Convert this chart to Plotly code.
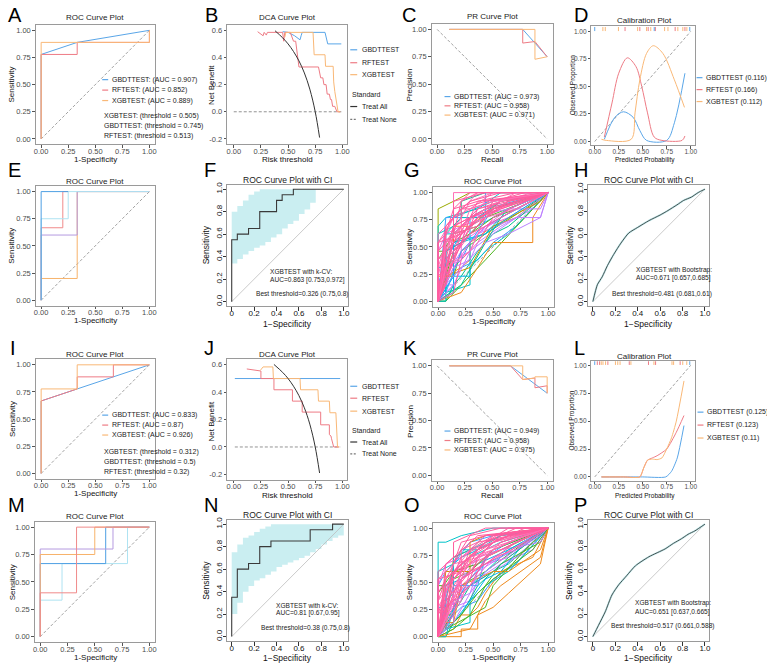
import plotly.graph_objects as go

W, H = 767, 664
FONT = "Liberation Sans, Arial, sans-serif"
C_GBDT, C_RF, C_XGB = "#5AA6E8", "#EE7B85", "#F9B877"
BORDER = "#9a9a9a"
DIAG = "#8a8a8a"

# ---------------- DATA ----------------
roc_ticks = [0, 0.25, 0.5, 0.75, 1]
roc_labels = ["0.00", "0.25", "0.50", "0.75", "1.00"]
base_ticks = [0, 0.2, 0.4, 0.6, 0.8, 1.0]
base_xlabels = ["0", "0.2", "0.4", "0.6", "0.8", "1.0"]
base_ylabels = ["0.0", "0.2", "0.4", "0.6", "0.8", "1.0"]
dca_yticks = [-0.2, 0, 0.2, 0.4, 0.6]
dca_ylabels = ["-0.2", "0.0", "0.2", "0.4", "0.6"]
models = ["GBDTTEST", "RFTEST", "XGBTEST"]

# A
A_gbdt_x = [0, 0, 0.333, 1]; A_gbdt_y = [0, 0.778, 0.889, 1]
A_rf_x = [0, 0, 0.333, 0.333, 1, 1]; A_rf_y = [0, 0.778, 0.778, 0.889, 0.889, 1]
A_xgb_x = [0, 0, 1, 1]; A_xgb_y = [0, 0.889, 0.889, 1]
A_auc = ["0.907", "0.852", "0.889"]
A_thr = ["XGBTEST: (threshold = 0.505)", "GBDTTEST: (threshold = 0.745)", "RFTEST: (threshold = 0.513)"]

# B
B_gbdt_x = [0.45, 0.50, 0.56, 0.61, 0.62, 0.63, 0.84, 0.865, 0.99]
B_gbdt_y = [0.59, 0.585, 0.56, 0.53, 0.56, 0.585, 0.585, 0.5, 0.5]
B_rf_x = [0.22, 0.27, 0.28, 0.30, 0.31, 0.45, 0.46, 0.47, 0.52, 0.55, 0.57, 0.58, 0.60, 0.78, 0.80, 0.82, 0.83, 0.85, 0.86, 0.88, 0.89, 0.90, 0.91, 0.93, 0.95, 0.98]
B_rf_y = [0.59, 0.56, 0.585, 0.565, 0.585, 0.585, 0.52, 0.585, 0.585, 0.52, 0.52, 0.45, 0.33, 0.33, 0.25, 0.25, 0.2, 0.2, 0.13, 0.13, 0.09, 0.09, 0.04, 0.04, 0.0, 0.0]
B_xgb_x = [0.47, 0.48, 0.73, 0.74, 0.84, 0.845, 0.915, 0.92, 0.93, 0.95, 0.96, 0.98]
B_xgb_y = [0.55, 0.585, 0.585, 0.42, 0.42, 0.335, 0.335, 0.22, 0.15, 0.05, 0.0, 0.0]
B_all_x = [0.38, 0.45, 0.5, 0.55, 0.6, 0.65, 0.7, 0.75, 0.79]
B_all_y = [0.597, 0.545, 0.5, 0.444, 0.375, 0.286, 0.167, 0.0, -0.19]
B_none_x = [0.0, 0.99]; B_none_y = [0, 0]

# C
C_gbdt_x = [0.111, 0.778, 1.0]; C_gbdt_y = [1, 1, 0.75]
C_rf_x = [0.111, 0.778, 0.778, 0.889, 1.0]; C_rf_y = [1, 1, 0.875, 0.889, 0.75]
C_xgb_x = [0.111, 0.889, 0.889, 1.0]; C_xgb_y = [1, 1, 0.727, 0.75]
C_auc = ["0.973", "0.958", "0.971"]

# D
D_gbdt_x = [0.10, 0.21, 0.30, 0.40, 0.47, 0.54, 0.75, 0.83, 0.94]
D_gbdt_y = [0.02, 0.22, 0.27, 0.22, 0.10, 0.01, 0.01, 0.17, 0.62]
D_rf_x = [0.10, 0.18, 0.25, 0.34, 0.43, 0.49, 0.55, 0.62, 0.70, 0.91, 0.94]
D_rf_y = [0.04, 0.35, 0.62, 0.76, 0.68, 0.50, 0.26, 0.04, 0.01, 0.01, 0.05]
D_xgb_x = [0.07, 0.12, 0.38, 0.42, 0.47, 0.54, 0.61, 0.71, 0.83, 0.935]
D_xgb_y = [0.02, 0.01, 0.02, 0.26, 0.56, 0.80, 0.87, 0.80, 0.56, 0.31]
D_rug_gbdt = [0.0, 0.62, 0.99]
D_rug_rf = [0.316, 0.47, 0.557, 0.632, 0.838, 0.94]
D_rug_xgb = [0.085, 0.11, 0.247, 0.447, 0.54, 0.584, 0.728, 0.763, 0.866, 0.918, 0.96]
D_brier = ["0.116", "0.166", "0.112"]

# E (five folds)
E_curves_x = [[0, 0, 0.333, 0.333, 1], [0, 0, 0.333, 0.333, 1], [0, 0, 0.2, 0.2, 0.25], [0, 0, 0.25, 0.25, 1], [0, 0, 0.25]]
E_curves_y = [[0, 0.2, 0.2, 1, 1], [0, 0.6, 0.6, 1, 1], [0, 0.667, 0.667, 1, 1], [0, 0.75, 0.75, 1, 1], [0, 1, 1]]
E_colors = ["#F7B36B", "#B59AE0", "#F08A8A", "#AEE3F2", "#4E9FE3"]

# F
F_x = [0, 0, 0.05, 0.05, 0.15, 0.15, 0.25, 0.25, 0.4, 0.4, 0.45, 0.45, 0.55, 0.55, 1]
F_y = [0, 0.55, 0.55, 0.6, 0.6, 0.65, 0.65, 0.8, 0.8, 0.9, 0.9, 0.95, 0.95, 1.0, 1.0]
F_ci_x = [0, 0.05, 0.1, 0.15, 0.2, 0.25, 0.3, 0.35, 0.4, 0.45, 0.5, 0.55, 0.6, 0.65, 0.7, 0.75]
F_ci_lo = [0.34, 0.38, 0.42, 0.45, 0.48, 0.5, 0.53, 0.57, 0.6, 0.65, 0.69, 0.72, 0.78, 0.82, 0.88, 0.96]
F_ci_hi = [0.8, 0.85, 0.9, 0.95, 0.98, 1.0, 1.0, 1.0, 1.0, 1.0, 1.0, 1.0, 1.0, 1.0, 1.0, 1.0]
F_text = ["XGBTEST with k-CV:", "AUC=0.863 [0.753,0.972]", "Best threshold=0.326 (0.75,0.8)"]

# G (resampled ROC curves, flattened x,y pairs) - lower / early curves
G_low = [
    [0,0, 0.07,0.08, 0.07,0.31, 0.14,0.38, 0.14,0.62, 0.29,0.77, 0.57,0.92, 1,1],
    [0,0, 0,0.08, 0.07,0.15, 0.14,0.31, 0.21,0.38, 0.29,0.54, 0.43,0.69, 0.71,0.85, 1,1],
    [0,0, 0.07,0.15, 0.07,0.23, 0.14,0.23, 0.21,0.46, 0.43,0.62, 0.79,0.85, 1,1],
    [0,0, 0.14,0.15, 0.14,0.31, 0.29,0.38, 0.36,0.54, 0.57,0.69, 0.86,0.85, 1,1],
    [0,0, 0,0.31, 0.07,0.31, 0.07,0.46, 0.21,0.54, 0.36,0.69, 0.64,0.85, 1,1],
    [0,0, 0.07,0.23, 0.21,0.31, 0.29,0.38, 0.29,0.54, 0.5,0.69, 0.71,0.77, 1,1],
    [0,0, 0.07,0, 0.14,0.15, 0.21,0.23, 0.36,0.46, 0.5,0.62, 0.64,0.69, 1,1],
    [0,0, 0,0.15, 0.14,0.15, 0.14,0.38, 0.29,0.46, 0.5,0.62, 0.71,0.77, 1,1],
    [0,0, 0.07,0.31, 0.21,0.38, 0.21,0.54, 0.43,0.69, 0.64,0.77, 1,1],
    [0,0, 0.14,0.23, 0.21,0.31, 0.36,0.38, 0.5,0.54, 0.71,0.69, 1,1],
    [0,0, 0.07,0.08, 0.29,0.15, 0.29,0.31, 0.43,0.46, 0.64,0.62, 1,1],
    [0,0, 0,0.46, 0.07,0.46, 0.14,0.54, 0.29,0.62, 0.43,0.77, 1,1],
]
G_low_colors = ["cyan", "blue", "green", "purple", "teal", "orange", "green2", "violet", "magenta", "blue", "cyan", "green"]
G_curves = [
    [0,0, 0.07,0, 0.43,0.38, 0.79,0.77, 1,1],
    [0,0, 0.21,0.08, 0.36,0.31, 0.5,0.54, 0.86,0.54, 0.86,0.77, 1,1],
    [0,0, 0,0.85, 0.14,0.92, 0.29,1, 1,1],
    [0,0, 0.07,0.23, 0.21,0.46, 0.36,0.62, 0.71,0.77, 0.93,0.77, 1,1],
    [0,0, 0.14,0.23, 0.29,0.23, 0.29,0.77, 0.43,0.85, 1,1],
    [0,0, 0.07,0.08, 0.07,0.62, 0.14,0.62, 0.14,0.77, 0.5,0.92, 1,1],
    [0,0, 0,0.15, 0.07,0.38, 0.21,0.62, 0.5,0.85, 0.71,0.92, 1,1],
    [0,0, 0.07,0.62, 0.21,0.77, 0.21,0.92, 0.43,1, 1,1],
    [0,0, 0.07,0.23, 0.29,0.31, 0.5,0.69, 0.93,0.92, 1,1],
    [0,0, 0,0.69, 0.07,0.77, 0.36,0.85, 0.57,1, 1,1],
    [0,0, 0.14,0.46, 0.29,0.62, 0.5,0.77, 0.71,0.85, 1,1],
    [0,0, 0.07,0.77, 0.43,0.77, 0.43,1, 1,1],
    [0,0, 0.07,0.38, 0.21,0.54, 0.29,0.77, 0.64,0.85, 0.93,0.85, 1,1],
    [0,0, 0.07,0, 0.07,0.46, 0.21,0.54, 0.43,0.62, 0.64,0.85, 1,1],
    [0,0, 0.21,0.15, 0.43,0.54, 0.57,0.77, 1,1],
    [0,0, 0,0.23, 0.14,0.23, 0.14,0.69, 0.29,0.69, 0.57,0.92, 1,1],
    [0,0, 0.14,0.08, 0.14,0.54, 0.43,0.62, 0.64,0.77, 1,1],
    [0,0, 0.07,0.15, 0.21,0.31, 0.43,0.54, 0.64,0.62, 0.93,0.77, 1,1],
    [0,0, 0.07,0.08, 0.21,0.46, 0.29,0.54, 0.5,0.85, 1,1],
    [0,0, 0,0.62, 0.14,0.69, 0.21,0.77, 0.36,0.77, 0.57,0.92, 1,1],
    [0,0, 0,0.38, 0.14,0.62, 0.36,0.69, 0.5,0.85, 1,1],
    [0,0, 0.14,0.15, 0.29,0.46, 0.36,0.62, 0.57,0.77, 0.86,0.92, 1,1],
    [0,0, 0.14,0.31, 0.29,0.54, 0.43,0.69, 0.64,0.85, 1,1],
    [0,0, 0,0.46, 0.07,0.62, 0.21,0.69, 0.43,0.92, 1,1],
    [0,0, 0,0.38, 0.07,0.46, 0.14,0.69, 0.29,0.77, 0.43,0.85, 0.71,0.92, 1,1],
    [0,0, 0.07,0.31, 0.14,0.54, 0.21,0.69, 0.36,0.85, 0.57,0.92, 1,1],
    [0,0, 0,0.23, 0.07,0.54, 0.21,0.77, 0.29,0.92, 0.5,1, 1,1],
    [0,0, 0.07,0.15, 0.14,0.46, 0.29,0.62, 0.43,0.77, 0.64,0.92, 1,1],
    [0,0, 0,0.46, 0.14,0.62, 0.14,0.85, 0.36,0.92, 0.71,1, 1,1],
    [0,0, 0.07,0.62, 0.14,0.77, 0.29,0.85, 0.5,1, 1,1],
    [0,0, 0,0.31, 0.14,0.46, 0.21,0.62, 0.29,0.69, 0.57,0.85, 1,1],
    [0,0, 0.07,0.46, 0.07,0.69, 0.21,0.85, 0.43,0.92, 1,1],
    [0,0, 0.14,0.08, 0.21,0.38, 0.36,0.54, 0.5,0.77, 0.79,0.92, 1,1],
    [0,0, 0,0.54, 0.14,0.77, 0.14,1, 1,1],
    [0,0, 0,0.15, 0.07,0.31, 0.21,0.54, 0.36,0.77, 0.57,0.85, 1,1],
    [0,0, 0.07,0.54, 0.14,0.62, 0.36,0.69, 0.5,0.92, 1,1],
    [0,0, 0,0.62, 0.07,0.69, 0.29,0.92, 0.36,1, 1,1],
    [0,0, 0.07,0.38, 0.14,0.69, 0.43,0.85, 0.57,0.92, 1,1],
    [0,0, 0,0.08, 0.14,0.38, 0.29,0.69, 0.36,0.77, 0.71,0.92, 1,1],
    [0,0, 0.07,0.69, 0.21,0.85, 0.29,0.85, 0.5,0.92, 0.79,1, 1,1],
    [0,0, 0,0.38, 0.21,0.69, 0.43,0.77, 0.57,0.92, 0.86,1, 1,1],
    [0,0, 0.14,0.62, 0.21,0.92, 0.36,1, 1,1],
    [0,0, 0,0.54, 0.07,0.62, 0.14,0.85, 0.29,1, 1,1],
    [0,0, 0.07,0.46, 0.14,0.54, 0.29,0.77, 0.5,0.85, 1,1],
    [0,0, 0,0.31, 0.07,0.54, 0.21,0.69, 0.43,0.85, 0.71,1, 1,1],
    [0,0, 0.14,0.54, 0.29,0.69, 0.36,0.85, 0.64,0.92, 1,1],
    [0,0, 0.07,0.23, 0.14,0.62, 0.29,0.77, 0.36,0.92, 1,1],
    [0,0, 0.14,0.38, 0.21,0.62, 0.36,0.77, 0.64,0.92, 1,1],
    [0,0, 0.07,0.54, 0.21,0.62, 0.29,0.85, 0.5,0.92, 1,1],
    [0,0, 0,0.23, 0.07,0.31, 0.29,0.62, 0.43,0.69, 0.71,0.85, 1,1],
    [0,0, 0.07,0.69, 0.14,0.77, 0.14,0.92, 0.43,1, 1,1],
    [0,0, 0.21,0.54, 0.29,0.77, 0.5,0.85, 0.79,0.92, 1,1],
    [0,0, 0.07,0.31, 0.29,0.46, 0.43,0.77, 0.71,0.85, 1,1],
    [0,0, 0,0.54, 0.21,0.62, 0.21,0.85, 0.29,0.92, 0.57,1, 1,1],
]
G_colors = ["green", "orange", "olive", "purple", "teal", "cyan", "blue", "green2", "gold", "cyan",
            "green", "blue", "purple", "cyan", "green2", "orange", "teal", "violet", "blue", "cyan",
            "green", "purple", "magenta", "magenta",
            "pink", "pink", "rose", "pink", "pink", "rose", "pink", "pink", "pink", "rose",
            "pink", "pink", "rose", "pink", "pink", "pink", "rose", "pink", "pink", "pink",
            "rose", "pink", "pink", "pink", "rose", "pink", "pink", "pink", "rose", "pink"]

# H
H_x = [0, 0.04, 0.083, 0.13, 0.186, 0.25, 0.32, 0.4, 0.5, 0.6, 0.67, 0.75, 0.81, 0.88, 0.94, 1.0]
H_y = [0, 0.15, 0.22, 0.32, 0.42, 0.52, 0.61, 0.66, 0.72, 0.77, 0.81, 0.86, 0.9, 0.93, 0.97, 1.0]
H_text = ["XGBTEST with Bootstrap:", "AUC=0.671 [0.657,0.685]", "Best threshold=0.481 (0.681,0.61)"]

# I
I_gbdt_x = [0, 0, 0.333, 1]; I_gbdt_y = [0, 0.667, 0.778, 1]
I_rf_x = [0, 0, 0.333, 0.333, 0.667, 0.667, 1]; I_rf_y = [0, 0.667, 0.778, 0.889, 0.889, 1, 1]
I_xgb_x = [0, 0, 0.333, 0.333, 1]; I_xgb_y = [0, 0.778, 0.778, 1, 1]
I_auc = ["0.833", "0.87", "0.926"]
I_thr = ["XGBTEST: (threshold = 0.312)", "GBDTTEST: (threshold = 0.5)", "RFTEST: (threshold = 0.32)"]

# J
J_gbdt_x = [0.01, 0.98]; J_gbdt_y = [0.5, 0.5]
J_rf_x = [0.12, 0.25, 0.25, 0.37, 0.37, 0.54, 0.54, 0.63, 0.63, 0.80, 0.80, 0.88, 0.88, 0.895, 0.90, 0.92, 0.97]
J_rf_y = [0.57, 0.555, 0.5, 0.5, 0.418, 0.418, 0.335, 0.335, 0.255, 0.255, 0.162, 0.162, 0.09, 0.08, 0.06, 0.0, 0.0]
J_xgb_x = [0.245, 0.27, 0.36, 0.365, 0.61, 0.615, 0.775, 0.78, 0.88, 0.885, 0.94, 0.955, 0.97]
J_xgb_y = [0.56, 0.585, 0.585, 0.5, 0.5, 0.418, 0.418, 0.335, 0.335, 0.25, 0.25, 0.0, 0.0]
J_all_x = [0.37, 0.45, 0.5, 0.55, 0.6, 0.65, 0.7, 0.75, 0.79]
J_all_y = [0.603, 0.545, 0.5, 0.444, 0.375, 0.286, 0.167, 0.0, -0.19]
J_none_x = [0.01, 0.98]; J_none_y = [0, 0]

# K
K_gbdt_x = [0.111, 0.667, 1.0]; K_gbdt_y = [1, 1, 0.75]
K_rf_x = [0.111, 0.667, 0.778, 0.889, 0.889, 1.0, 1.0]; K_rf_y = [1, 1, 0.875, 0.889, 0.8, 0.818, 0.75]
K_xgb_x = [0.111, 0.778, 0.778, 0.889, 0.889, 1.0, 1.0]; K_xgb_y = [1, 1, 0.875, 0.889, 0.9, 0.9, 0.75]
K_auc = ["0.949", "0.958", "0.975"]

# L
L_gbdt_x = [0.07, 0.3, 0.5, 0.74, 0.8, 0.86, 0.93]; L_gbdt_y = [0, 0, 0, 0, 0.05, 0.17, 0.46]
L_rf_x = [0.07, 0.3, 0.47, 0.51, 0.55, 0.6, 0.65, 0.75, 0.85, 0.93]
L_rf_y = [0, 0, 0, 0.08, 0.15, 0.17, 0.19, 0.25, 0.4, 0.55]
L_xgb_x = [0.07, 0.3, 0.47, 0.51, 0.55, 0.6, 0.65, 0.7, 0.75, 0.8, 0.85, 0.93]
L_xgb_y = [0, 0, 0, 0.08, 0.15, 0.16, 0.155, 0.17, 0.25, 0.35, 0.5, 0.86]
L_rug_gbdt = [0.0, 0.99]
L_rug_rf = [0.027, 0.051, 0.137, 0.36, 0.56, 0.634, 0.89]
L_rug_xgb = [0.068, 0.086, 0.113, 0.216, 0.24, 0.264, 0.377, 0.617, 0.805, 0.822, 0.917, 0.959]
L_brier = ["0.125", "0.123", "0.11"]

# M
M_curves_x = [[0, 0, 0.2, 0.2, 0.8, 0.8, 1], [0, 0, 0.6, 0.6, 1], [0, 0, 0.667, 0.667, 1], [0, 0, 0.5, 0.5, 1], [0, 0, 0.333, 0.333, 1]]
M_curves_y = [[0, 0.333, 0.333, 0.667, 0.667, 1, 1], [0, 0.667, 0.667, 1, 1], [0, 0.8, 0.8, 1, 1], [0, 0.75, 0.75, 1, 1], [0, 0.4, 0.4, 1, 1]]
M_colors = ["#AEE3F2", "#4E9FE3", "#B59AE0", "#F7B36B", "#F08A8A"]

# N
N_x = [0, 0, 0.05, 0.05, 0.15, 0.15, 0.25, 0.25, 0.35, 0.35, 0.7, 0.7, 0.9, 0.9, 1.0]
N_y = [0, 0.35, 0.35, 0.6, 0.6, 0.65, 0.65, 0.8, 0.8, 0.85, 0.85, 0.95, 0.95, 1.0, 1.0]
N_ci_x = [0, 0.05, 0.1, 0.15, 0.2, 0.25, 0.3, 0.35, 0.4, 0.45, 0.5, 0.55, 0.6, 0.65, 0.7, 0.75, 0.8, 0.85, 0.9, 0.95, 1.0]
N_ci_lo = [0.2, 0.3, 0.4, 0.45, 0.5, 0.52, 0.55, 0.58, 0.62, 0.64, 0.66, 0.68, 0.7, 0.72, 0.75, 0.78, 0.82, 0.85, 0.88, 0.9, 0.95]
N_ci_hi = [0.75, 0.82, 0.88, 0.9, 0.93, 0.96, 0.98, 1.0, 1.0, 1.0, 1.0, 1.0, 1.0, 1.0, 1.0, 1.0, 1.0, 1.0, 1.0, 1.0, 1.0]
N_text = ["XGBTEST with k-CV:", "AUC=0.81 [0.67,0.95]", "Best threshold=0.38 (0.75,0.8)"]

# O
O_low = [
    [0,0, 0.07,0.07, 0.07,0.33, 0.14,0.4, 0.14,0.6, 0.29,0.73, 0.57,0.87, 1,1],
    [0,0, 0,0.07, 0.07,0.13, 0.14,0.27, 0.21,0.4, 0.29,0.53, 0.43,0.67, 0.71,0.8, 1,1],
    [0,0, 0.07,0.13, 0.07,0.2, 0.14,0.2, 0.21,0.47, 0.43,0.6, 0.79,0.87, 1,1],
    [0,0, 0.14,0.13, 0.14,0.27, 0.29,0.33, 0.36,0.53, 0.57,0.67, 0.86,0.8, 1,1],
    [0,0, 0,0.27, 0.07,0.27, 0.07,0.47, 0.21,0.53, 0.36,0.67, 0.64,0.8, 1,1],
    [0,0, 0.14,0.07, 0.21,0.2, 0.29,0.2, 0.36,0.27, 0.43,0.4, 0.57,0.6, 0.86,0.73, 1,1],
    [0,0, 0.07,0, 0.14,0.13, 0.21,0.2, 0.36,0.47, 0.5,0.6, 0.64,0.67, 1,1],
    [0,0, 0,0.13, 0.14,0.13, 0.14,0.4, 0.29,0.47, 0.5,0.6, 0.71,0.73, 1,1],
    [0,0, 0.07,0.27, 0.21,0.33, 0.21,0.53, 0.43,0.67, 0.64,0.73, 1,1],
    [0,0, 0.14,0.2, 0.21,0.27, 0.36,0.33, 0.5,0.53, 0.71,0.67, 1,1],
    [0,0, 0.07,0.07, 0.29,0.13, 0.29,0.33, 0.43,0.47, 0.64,0.6, 1,1],
    [0,0, 0,0.47, 0.07,0.47, 0.14,0.53, 0.29,0.6, 0.43,0.73, 1,1],
]
O_low_colors = ["cyan", "blue", "green", "purple", "teal", "orange", "green2", "violet", "magenta", "blue", "cyan", "green"]
O_curves = [
    [0,0, 0,0.87, 0.07,0.87, 0.21,0.93, 0.5,1, 1,1],
    [0,0, 0.14,0.07, 0.29,0.2, 0.43,0.47, 0.57,0.67, 0.93,0.87, 1,1],
    [0,0, 0.21,0, 0.21,0.07, 0.36,0.07, 0.36,0.2, 0.5,0.27, 0.64,0.4, 0.93,0.67, 1,1],
    [0,0, 0.07,0.07, 0.14,0.73, 0.29,0.8, 0.43,0.93, 1,1],
    [0,0, 0.14,0.13, 0.29,0.33, 0.43,0.53, 0.57,0.6, 0.79,0.87, 1,1],
    [0,0, 0.07,0.33, 0.21,0.53, 0.36,0.73, 0.57,0.8, 0.93,0.87, 1,1],
    [0,0, 0,0.47, 0.07,0.6, 0.14,0.67, 0.29,0.87, 0.5,0.93, 1,1],
    [0,0, 0.21,0.33, 0.29,0.47, 0.5,0.6, 0.64,0.73, 1,1],
    [0,0, 0.07,0.6, 0.29,0.6, 0.29,0.87, 0.43,0.93, 1,1],
    [0,0, 0.07,0.53, 0.14,0.6, 0.14,0.73, 0.29,0.8, 0.57,0.93, 1,1],
    [0,0, 0.07,0.07, 0.43,0.27, 0.5,0.47, 0.79,0.8, 1,1],
    [0,0, 0.07,0, 0.14,0.27, 0.21,0.4, 0.36,0.53, 0.64,0.8, 1,1],
    [0,0, 0,0.13, 0.14,0.13, 0.21,0.47, 0.5,0.6, 0.64,0.6, 0.93,0.8, 1,1],
    [0,0, 0.14,0.33, 0.29,0.4, 0.43,0.6, 0.71,0.8, 0.93,0.93, 1,1],
    [0,0, 0.14,0.47, 0.36,0.47, 0.43,0.73, 0.64,0.87, 1,1],
    [0,0, 0.21,0.2, 0.36,0.4, 0.5,0.53, 0.86,0.8, 1,1],
    [0,0, 0.14,0.67, 0.21,0.73, 0.36,0.8, 0.64,0.93, 1,1],
    [0,0, 0.29,0.07, 0.43,0.33, 0.57,0.47, 0.93,0.73, 1,1],
    [0,0, 0.07,0.07, 0.21,0.4, 0.29,0.53, 0.5,0.8, 1,1],
    [0,0, 0,0.6, 0.14,0.67, 0.21,0.8, 0.36,0.8, 0.57,0.93, 1,1],
    [0,0, 0,0.4, 0.14,0.6, 0.36,0.67, 0.5,0.8, 1,1],
    [0,0, 0.14,0.13, 0.29,0.4, 0.36,0.6, 0.57,0.73, 0.86,0.93, 1,1],
    [0,0, 0.07,0.2, 0.29,0.47, 0.5,0.73, 0.71,0.8, 1,1],
    [0,0, 0,0.47, 0.07,0.67, 0.21,0.73, 0.43,0.93, 1,1],
    [0,0, 0.07,0.27, 0.14,0.53, 0.29,0.73, 0.5,0.87, 1,1],
    [0,0, 0,0.2, 0.07,0.47, 0.21,0.67, 0.36,0.8, 0.64,0.93, 1,1],
    [0,0, 0.07,0.13, 0.14,0.4, 0.21,0.6, 0.43,0.8, 0.71,0.93, 1,1],
    [0,0, 0.07,0.4, 0.21,0.73, 0.43,0.87, 0.64,1, 1,1],
    [0,0, 0.14,0.2, 0.21,0.47, 0.36,0.6, 0.5,0.8, 0.79,0.93, 1,1],
    [0,0, 0,0.33, 0.14,0.53, 0.29,0.67, 0.43,0.73, 0.71,0.87, 1,1],
    [0,0, 0,0.4, 0.07,0.53, 0.21,0.8, 0.36,0.87, 1,1],
    [0,0, 0.14,0.4, 0.21,0.53, 0.36,0.67, 0.57,0.87, 1,1],
    [0,0, 0.07,0.47, 0.21,0.6, 0.29,0.73, 0.5,0.93, 1,1],
    [0,0, 0,0.27, 0.07,0.4, 0.14,0.67, 0.36,0.73, 0.57,0.8, 1,1],
    [0,0, 0.07,0.33, 0.14,0.6, 0.29,0.67, 0.5,0.87, 0.79,1, 1,1],
    [0,0, 0,0.53, 0.14,0.67, 0.21,0.87, 0.43,0.93, 1,1],
    [0,0, 0.07,0.13, 0.21,0.33, 0.29,0.6, 0.43,0.8, 0.64,0.87, 1,1],
    [0,0, 0,0.6, 0.14,0.73, 0.36,0.93, 1,1],
    [0,0, 0.07,0.27, 0.29,0.53, 0.36,0.73, 0.57,0.93, 1,1],
    [0,0, 0,0.07, 0.14,0.27, 0.21,0.53, 0.43,0.67, 0.79,0.87, 1,1],
    [0,0, 0.07,0.53, 0.14,0.6, 0.29,0.8, 0.5,0.87, 1,1],
    [0,0, 0,0.33, 0.07,0.53, 0.21,0.67, 0.43,0.87, 0.71,1, 1,1],
    [0,0, 0.14,0.47, 0.29,0.67, 0.36,0.8, 0.64,0.93, 1,1],
    [0,0, 0.07,0.2, 0.14,0.6, 0.29,0.73, 0.43,0.87, 1,1],
    [0,0, 0.14,0.33, 0.21,0.6, 0.36,0.73, 0.64,0.87, 1,1],
    [0,0, 0.07,0.47, 0.21,0.6, 0.29,0.8, 0.5,0.93, 1,1],
    [0,0, 0,0.2, 0.07,0.33, 0.29,0.6, 0.43,0.67, 0.71,0.87, 1,1],
    [0,0, 0.07,0.67, 0.14,0.73, 0.14,0.87, 0.43,1, 1,1],
    [0,0, 0.21,0.53, 0.29,0.73, 0.5,0.8, 0.79,0.93, 1,1],
    [0,0, 0.07,0.27, 0.29,0.47, 0.43,0.73, 0.71,0.87, 1,1],
    [0,0, 0,0.53, 0.21,0.6, 0.21,0.8, 0.29,0.93, 0.57,1, 1,1],
]
O_colors = ["cyan", "green", "orange", "olive", "teal", "purple", "blue", "green2", "gold", "cyan",
            "green", "cyan", "orange", "violet", "blue", "green", "teal", "orange", "blue", "cyan",
            "green", "purple", "magenta", "magenta",
            "pink", "pink", "rose", "pink", "pink", "rose", "pink", "pink", "pink", "rose",
            "pink", "pink", "rose", "pink", "pink", "pink", "rose", "pink", "pink", "pink",
            "rose", "pink", "pink", "pink", "rose", "pink", "pink"]

# P
P_x = [0, 0.05, 0.11, 0.17, 0.23, 0.3, 0.38, 0.5, 0.645, 0.72, 0.79, 0.85, 0.91, 1.0]
P_y = [0, 0.1, 0.22, 0.37, 0.46, 0.54, 0.63, 0.71, 0.78, 0.83, 0.87, 0.91, 0.94, 1.0]
P_text = ["XGBTEST with Bootstrap:", "AUC=0.651 [0.637,0.665]", "Best threshold=0.517 (0.661,0.588)"]

HUE = {"pink": "#FF5C9E", "rose": "#FF6FB5", "magenta": "#F066E0", "violet": "#B983FF", "purple": "#C77CFF",
       "blue": "#3DA0FF", "teal": "#00B4EF", "cyan": "#00C3C8", "green2": "#00C08B", "green": "#4DB51F",
       "olive": "#9AAA00", "gold": "#D39200", "orange": "#EE8A1C"}

# ---------------- FIGURE ----------------
fig = go.Figure()
annotations, shapes, axes = [], [], {}


def names(i):
    return ("x" if i == 1 else f"x{i}", "y" if i == 1 else f"y{i}")


def add_axes(i, box, xr, yr, xt, xtt, yt, ytt, base=False, fs=7.5):
    l, t, r, b = box
    xn, yn = names(i)
    common = dict(showline=True, mirror=True, linecolor=BORDER, linewidth=1, showgrid=False,
                  zeroline=False, ticks="outside", fixedrange=True, tickmode="array")
    if base:
        st = dict(ticklen=3.5, tickcolor="#333", tickwidth=0.8,
                  tickfont=dict(size=8, color="#111", family=FONT))
        xs_off, ys_off = -4, -2
    else:
        st = dict(ticklen=2.5, tickcolor="#555", tickwidth=0.8,
                  tickfont=dict(size=fs, color="#4D4D4D", family=FONT))
        xs_off, ys_off = -3, 0
    axes["xaxis" if i == 1 else f"xaxis{i}"] = dict(domain=[l / W, r / W], range=xr, anchor=yn,
                                                    tickvals=xt, ticktext=xtt, ticklabelstandoff=xs_off,
                                                    **common, **st)
    ya = dict(domain=[1 - b / H, 1 - t / H], range=yr, anchor=xn, tickvals=yt, ticktext=ytt,
              ticklabelstandoff=ys_off, **common, **st)
    if base:
        ya["tickangle"] = -90
    axes["yaxis" if i == 1 else f"yaxis{i}"] = ya


def line(i, x, y, color, width=1.0, dash=None, shape="linear", smoothing=None):
    xn, yn = names(i)
    ln = dict(color=color, width=width, shape=shape)
    if dash:
        ln["dash"] = dash
    if smoothing is not None:
        ln["smoothing"] = smoothing
    fig.add_trace(go.Scatter(x=x, y=y, mode="lines", line=ln, xaxis=xn, yaxis=yn,
                             hoverinfo="skip", showlegend=False))


def band(i, x, lo, hi, color):
    xn, yn = names(i)
    fig.add_trace(go.Scatter(x=x, y=lo, mode="lines", line=dict(width=0, shape="hv"), xaxis=xn, yaxis=yn,
                             hoverinfo="skip", showlegend=False))
    fig.add_trace(go.Scatter(x=x, y=hi, mode="lines", line=dict(width=0, shape="hv"), fill="tonexty",
                             fillcolor=color, xaxis=xn, yaxis=yn, hoverinfo="skip", showlegend=False))


def rug(i, xs, color):
    xx, yy = [], []
    for v in xs:
        xx += [v, v, None]
        yy += [1.003, 1.04, None]
    line(i, xx, yy, color, width=1)


def text(s, x, y, size=7.0, anchor="left", color="#222", angle=0):
    annotations.append(dict(text=s, x=x / W, y=1 - y / H, xref="paper", yref="paper", xanchor=anchor,
                            yanchor="middle", showarrow=False, textangle=angle,
                            font=dict(size=size, color=color, family=FONT)))


def key(x0, x1, y, color, dash=None, width=1.2):
    ln = dict(color=color, width=width)
    if dash:
        ln["dash"] = dash
    shapes.append(dict(type="line", xref="paper", yref="paper", x0=x0 / W, x1=x1 / W,
                       y0=1 - y / H, y1=1 - y / H, line=ln))


def gg_titles(title, xt, yt, cx, ty, xy, yx, yy, fs=8, afs=8):
    text(title, cx, ty, size=fs, anchor="center", color="#1a1a1a")
    text(xt, cx, xy, size=afs, anchor="center", color="#111")
    text(yt, yx, yy, size=afs, anchor="center", color="#111", angle=-90)


def letter(s, x, y):
    text(s, x, y, size=20, anchor="left", color="#000")


R = [-0.05, 1.05]
RB = [-0.04, 1.04]
cols = [C_GBDT, C_RF, C_XGB]

# ---- A ----
add_axes(1, (33, 22, 153, 142), R, R, roc_ticks, roc_labels, roc_ticks, roc_labels)
line(1, [0, 1], [0, 1], DIAG, 0.8, "3px,2px")
for xs, ys, c in [(A_gbdt_x, A_gbdt_y, C_GBDT), (A_rf_x, A_rf_y, C_RF), (A_xgb_x, A_xgb_y, C_XGB)]:
    line(1, xs, ys, c)
gg_titles("ROC Curve Plot", "1-Specificity", "Sensitivity", 93, 15, 157, 9, 82)
for k, (m, a) in enumerate(zip(models, A_auc)):
    key(100, 106, 77 + 10.5 * k, cols[k])
    text(f"{m}: (AUC = {a})", 108, 77 + 10.5 * k)
for k, s in enumerate(A_thr):
    text(s, 100, 114 + 10 * k)
letter("A", 3, 12.5)

# ---- B ----
add_axes(2, (226, 22, 347, 142), [-0.06, 1.045], [-0.24, 0.64], roc_ticks, roc_labels, dca_yticks, dca_ylabels)
line(2, B_none_x, B_none_y, "#777", 0.8, "3px,2px")
line(2, B_gbdt_x, B_gbdt_y, C_GBDT)
line(2, B_rf_x, B_rf_y, C_RF)
line(2, B_xgb_x, B_xgb_y, C_XGB)
line(2, B_all_x, B_all_y, "#333", 1.0, shape="spline")
gg_titles("DCA Curve Plot", "Risk threshold", "Net Benefit", 287, 15, 157, 210, 82)


def dca_legend(ys):
    for k, m in enumerate(models):
        key(350, 357, ys[k], cols[k])
        text(m, 360, ys[k])
    text("Standard", 350, ys[3])
    key(350, 357, ys[4], "#333")
    text("Treat All", 360, ys[4])
    key(350, 357, ys[5], "#777", "2px,1.5px")
    text("Treat None", 360, ys[5])


dca_legend([47, 60, 72, 92, 104, 117])
letter("B", 202, 12.5)

# ---- C ----
add_axes(3, (432, 21, 554, 142), R, R, roc_ticks, roc_labels, roc_ticks, roc_labels)
line(3, [0, 1], [1, 0], DIAG, 0.8, "3px,2px")
line(3, C_gbdt_x, C_gbdt_y, C_GBDT)
line(3, C_rf_x, C_rf_y, C_RF)
line(3, C_xgb_x, C_xgb_y, C_XGB)
gg_titles("PR Curve Plot", "Recall", "Precision", 493, 14, 157, 410, 82)
for k, (m, a) in enumerate(zip(models, C_auc)):
    key(445, 451, 94 + 9.3 * k, cols[k])
    text(f"{m}: (AUC = {a})", 453, 94 + 9.3 * k)
letter("C", 400, 12)

# ---- D ----
add_axes(4, (593, 23, 697, 143), [-0.035, 1.04], [-0.035, 1.05], roc_ticks, roc_labels, roc_ticks, roc_labels, fs=6.5)
line(4, [0, 1], [0, 1], DIAG, 0.8, "3px,2px")
line(4, D_gbdt_x, D_gbdt_y, C_GBDT, shape="spline", smoothing=0.9)
line(4, D_rf_x, D_rf_y, C_RF, shape="spline", smoothing=0.9)
line(4, D_xgb_x, D_xgb_y, C_XGB, shape="spline", smoothing=0.9)
rug(4, D_rug_xgb, C_XGB)
rug(4, D_rug_rf, C_RF)
rug(4, D_rug_gbdt, C_GBDT)
gg_titles("Calibration Plot", "Predicted Probability", "Observed Proportion", 647, 18, 158, 574, 83, fs=8, afs=6.5)
for k, (m, b) in enumerate(zip(models, D_brier)):
    key(699, 705, 75 + 12 * k, cols[k])
    text(f"{m} ({b})", 707, 75 + 12 * k)
letter("D", 573, 12.5)

# ---- E ----
add_axes(5, (33, 184, 153, 304), R, R, roc_ticks, roc_labels, roc_ticks, roc_labels)
line(5, [0, 1], [0, 1], DIAG, 0.8, "3px,2px")
for xs, ys, c in zip(E_curves_x, E_curves_y, E_colors):
    line(5, xs, ys, c)
gg_titles("ROC Curve Plot", "1-Specificity", "Sensitivity", 93, 179, 319, 9, 244)
letter("E", 3, 168)

# ---- F ----
add_axes(6, (226, 182.5, 348, 304.5), RB, RB, base_ticks, base_xlabels, base_ticks, base_ylabels, base=True)
band(6, F_ci_x, F_ci_lo, F_ci_hi, "rgba(196,236,240,0.9)")
line(6, [0, 1], [0, 1], "#BDBDBD", 0.8)
line(6, F_x, F_y, "#3a3a3a", 1.1)
gg_titles("ROC Curve Plot with CI", "1\u2212Specificity", "Sensitivity", 287, 178, 322, 205, 243, fs=8.5, afs=8.5)
text(F_text[0], 267, 270, size=6.6)
text(F_text[1], 267, 278, size=6.6)
text(F_text[2], 253, 292, size=6.6)
letter("F", 201, 168)

# ---- G ----
add_axes(7, (433, 185, 555, 305), R, R, roc_ticks, roc_labels, roc_ticks, roc_labels)
line(7, [0, 1], [0, 1], DIAG, 0.8, "3px,2px")
for cv, cn in zip(G_low + G_curves, G_low_colors + G_colors):
    line(7, cv[0::2], cv[1::2], HUE[cn], 1.0)
gg_titles("ROC Curve Plot", "1-Specificity", "Sensitivity", 494, 179, 320, 410, 245)
letter("G", 402, 168)

# ---- H ----
add_axes(8, (590, 182.5, 712, 304.5), RB, RB, base_ticks, base_xlabels, base_ticks, base_ylabels, base=True)
line(8, [0, 1], [0, 1], "#BDBDBD", 0.8)
line(8, H_x, H_y, "#C4ECEE", 2.0, shape="spline", smoothing=0.6)
line(8, H_x, H_y, "#3a3f40", 0.9, shape="spline", smoothing=0.6)
gg_titles("ROC Curve Plot with CI", "1\u2212Specificity", "Sensitivity", 651, 178, 322, 571, 243, fs=8.5, afs=8.5)
text(H_text[0], 636, 268, size=6.6)
text(H_text[1], 636, 276, size=6.6)
text(H_text[2], 612, 292, size=6.6)
letter("H", 573, 168)

# ---- I ----
add_axes(9, (33, 358, 153, 478), R, R, roc_ticks, roc_labels, roc_ticks, roc_labels)
line(9, [0, 1], [0, 1], DIAG, 0.8, "3px,2px")
for xs, ys, c in [(I_gbdt_x, I_gbdt_y, C_GBDT), (I_rf_x, I_rf_y, C_RF), (I_xgb_x, I_xgb_y, C_XGB)]:
    line(9, xs, ys, c)
gg_titles("ROC Curve Plot", "1-Specificity", "Sensitivity", 93, 353, 493, 9, 418)
for k, (m, a) in enumerate(zip(models, I_auc)):
    key(100, 106, 414 + 10 * k, cols[k])
    text(f"{m}: (AUC = {a})", 108, 414 + 10 * k)
for k, s in enumerate(I_thr):
    text(s, 100, 451 + 10 * k)
letter("I", 5, 347)

# ---- J ----
add_axes(10, (226, 358, 347, 479), [-0.06, 1.045], [-0.24, 0.64], roc_ticks, roc_labels, dca_yticks, dca_ylabels)
line(10, J_none_x, J_none_y, "#777", 0.8, "3px,2px")
line(10, J_gbdt_x, J_gbdt_y, C_GBDT)
line(10, J_rf_x, J_rf_y, C_RF)
line(10, J_xgb_x, J_xgb_y, C_XGB)
line(10, J_all_x, J_all_y, "#333", 1.0, shape="spline")
gg_titles("DCA Curve Plot", "Risk threshold", "Net Benefit", 287, 353, 495, 210, 420)
dca_legend([385, 397, 410, 429, 441, 453])
letter("J", 201, 347)

# ---- K ----
add_axes(11, (432, 359, 554, 480), R, R, roc_ticks, roc_labels, roc_ticks, roc_labels)
line(11, [0, 1], [1, 0], DIAG, 0.8, "3px,2px")
line(11, K_gbdt_x, K_gbdt_y, C_GBDT)
line(11, K_rf_x, K_rf_y, C_RF)
line(11, K_xgb_x, K_xgb_y, C_XGB)
gg_titles("PR Curve Plot", "Recall", "Precision", 493, 353, 495, 410, 420)
for k, (m, a) in enumerate(zip(models, K_auc)):
    key(445, 451, 430 + 9.5 * k, cols[k])
    text(f"{m}: (AUC = {a})", 453, 430 + 9.5 * k)
letter("K", 401, 347)

# ---- L ----
add_axes(12, (593, 360, 697, 480), [-0.035, 1.04], [-0.035, 1.035], roc_ticks, roc_labels, roc_ticks, roc_labels, fs=6.5)
line(12, [0, 1], [0, 1], DIAG, 0.8, "3px,2px")
line(12, L_gbdt_x, L_gbdt_y, C_GBDT, shape="spline", smoothing=0.6)
line(12, L_rf_x, L_rf_y, C_RF, shape="spline", smoothing=0.6)
line(12, L_xgb_x, L_xgb_y, C_XGB, shape="spline", smoothing=0.6)
rug(12, L_rug_xgb, C_XGB)
rug(12, L_rug_rf, C_RF)
rug(12, L_rug_gbdt, C_GBDT)
gg_titles("Calibration Plot", "Predicted Probability", "Observed Proportion", 647, 355, 495, 574, 420, fs=8, afs=6.5)
for k, (m, b) in enumerate(zip(models, L_brier)):
    key(700, 706, 411 + 13 * k, cols[k])
    text(f"{m} ({b})", 708, 411 + 13 * k)
letter("L", 573, 347)

# ---- M ----
add_axes(13, (32, 521, 153, 642), R, R, roc_ticks, roc_labels, roc_ticks, roc_labels)
line(13, [0, 1], [0, 1], DIAG, 0.8, "3px,2px")
for xs, ys, c in zip(M_curves_x, M_curves_y, M_colors):
    line(13, xs, ys, c)
gg_titles("ROC Curve Plot", "1-Specificity", "Sensitivity", 93, 516, 657.5, 9, 582)
letter("M", 3, 504)

# ---- N ----
add_axes(14, (226, 519, 348, 641), RB, RB, base_ticks, base_xlabels, base_ticks, base_ylabels, base=True)
band(14, N_ci_x, N_ci_lo, N_ci_hi, "rgba(196,236,240,0.9)")
line(14, [0, 1], [0, 1], "#BDBDBD", 0.8)
line(14, N_x, N_y, "#3a3a3a", 1.1)
gg_titles("ROC Curve Plot with CI", "1\u2212Specificity", "Sensitivity", 287, 514, 658, 205, 580, fs=8.5, afs=8.5)
text(N_text[0], 273, 605, size=6.6)
text(N_text[1], 273, 613, size=6.6)
text(N_text[2], 258, 628, size=6.6)
letter("N", 201, 504)

# ---- O ----
add_axes(15, (433, 522, 555, 642), R, R, roc_ticks, roc_labels, roc_ticks, roc_labels)
line(15, [0, 1], [0, 1], DIAG, 0.8, "3px,2px")
for cv, cn in zip(O_low + O_curves, O_low_colors + O_colors):
    line(15, cv[0::2], cv[1::2], HUE[cn], 1.0)
gg_titles("ROC Curve Plot", "1-Specificity", "Sensitivity", 494, 516, 657.5, 410, 582)
letter("O", 402, 504)

# ---- P ----
add_axes(16, (590, 519, 712, 641), RB, RB, base_ticks, base_xlabels, base_ticks, base_ylabels, base=True)
line(16, [0, 1], [0, 1], "#BDBDBD", 0.8)
line(16, P_x, P_y, "#C4ECEE", 2.0, shape="spline", smoothing=0.6)
line(16, P_x, P_y, "#3a3f40", 0.9, shape="spline", smoothing=0.6)
gg_titles("ROC Curve Plot with CI", "1\u2212Specificity", "Sensitivity", 651, 514, 658, 571, 580, fs=8.5, afs=8.5)
text(P_text[0], 635, 603, size=6.6)
text(P_text[1], 635, 612, size=6.6)
text(P_text[2], 611, 626, size=6.6)
letter("P", 573, 504)

fig.update_layout(width=W, height=H, margin=dict(l=0, r=0, t=0, b=0), autosize=False,
                  paper_bgcolor="white", plot_bgcolor="white", showlegend=False,
                  annotations=annotations, shapes=shapes, font=dict(family=FONT), **axes)
fig.write_html("out.html")
